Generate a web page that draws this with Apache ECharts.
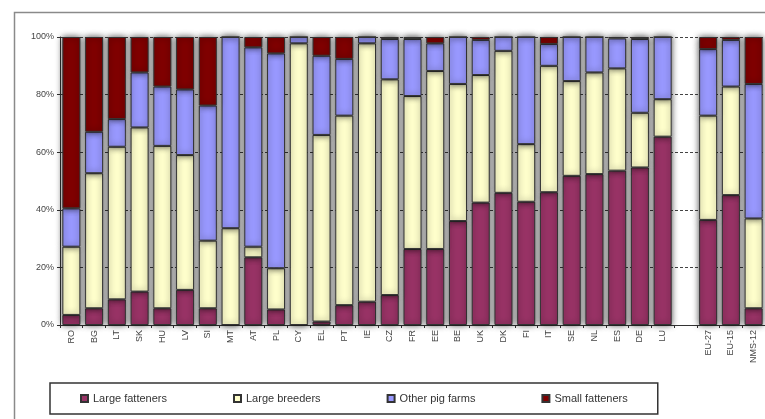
<!DOCTYPE html>
<html>
<head>
<meta charset="utf-8">
<script src="https://cdn.jsdelivr.net/npm/echarts@6/dist/echarts.min.js"></script>
<style>
  html, body { margin: 0; padding: 0; background: #fff; }
  #chart { width: 765px; height: 419px; }
</style>
</head>
<body>
<div id="chart"></div>
<script>
// categories, with an empty slot before the EU aggregates
const countries = ['RO', 'BG', 'LT', 'SK', 'HU', 'LV', 'SI', 'MT', 'AT', 'PL', 'CY', 'EL', 'PT', 'IE',
  'CZ', 'FR', 'EE', 'BE', 'UK', 'DK', 'FI', 'IT', 'SE', 'NL', 'ES', 'DE', 'LU', '', 'EU-27', 'EU-15', 'NMS-12'];

// shares in %
const largeFatteners = [3.5, 5.8, 8.9, 11.6, 5.8, 12.2, 5.8, 0, 23.5, 5.4, 0, 1.2, 6.9, 8.1,
  10.4, 26.4, 26.4, 36.1, 42.5, 45.9, 42.8, 46.1, 51.8, 52.4, 53.6, 54.7, 65.4, null, 36.5, 45.1, 5.8];
const largeBreeders = [23.7, 46.9, 53.0, 57.0, 56.4, 46.8, 23.5, 33.6, 3.7, 14.3, 97.8, 64.8, 65.8, 89.7,
  74.9, 53.1, 61.8, 47.6, 44.3, 49.3, 20.0, 43.9, 32.9, 35.3, 35.5, 19.0, 13.0, null, 36.2, 37.7, 31.2];
const otherPigFarms = [13.3, 14.4, 9.6, 19.1, 20.6, 22.8, 46.9, 66.4, 69.2, 74.6, 2.2, 27.5, 19.7, 2.2,
  14.0, 19.8, 9.6, 16.3, 12.2, 4.8, 37.2, 7.6, 15.3, 12.3, 10.4, 25.6, 21.6, null, 23.1, 16.2, 46.7];
const smallFatteners = [59.5, 32.9, 28.5, 12.3, 17.2, 18.2, 23.8, 0, 3.6, 5.7, 0, 6.5, 7.6, 0,
  0.7, 0.7, 2.2, 0, 1.0, 0, 0, 2.4, 0, 0, 0.5, 0.7, 0, null, 4.2, 1.0, 16.3];

const yTicks = [0, 20, 40, 60, 80, 100];

const font = 'Liberation Sans, Arial, sans-serif';

const chart = echarts.init(document.getElementById('chart'));

const mkSeries = (name, data, color) => ({
  name,
  type: 'bar',
  stack: 'total',
  data,
  barWidth: 18,
  itemStyle: {
    color,
    borderColor: '#333',
    borderWidth: 1,
    shadowBlur: 6,
    shadowColor: 'rgba(0,0,0,0.7)',
  },
});

chart.setOption({
  animation: false,
  backgroundColor: '#fff',
  graphic: [
    {
      type: 'rect',
      left: 12,
      top: 10,
      shape: { width: 800, height: 500 },
      style: { fill: 'none', stroke: '#8a8a8a', lineWidth: 1.5 },
      z: -10,
    },
  ],
  grid: { left: 60, top: 37, width: 708, height: 288, containLabel: false },
  legend: {
    left: 50,
    top: 383,
    orient: 'horizontal',
    icon: 'rect',
    itemWidth: 7,
    itemHeight: 7,
    itemGap: 66,
    padding: [10, 30, 10, 30],
    borderColor: '#333',
    borderWidth: 1.5,
    textStyle: { fontFamily: font, fontSize: 11, color: '#333' },
    data: ['Large fatteners', 'Large breeders', 'Other pig farms', 'Small fatteners'],
  },
  xAxis: {
    type: 'category',
    data: countries,
    axisLine: { lineStyle: { color: '#333', width: 1 } },
    axisTick: { show: true, length: 3, lineStyle: { color: '#333' } },
    axisLabel: { rotate: 90, fontFamily: font, fontSize: 9, color: '#444', margin: 5, interval: 0 },
  },
  yAxis: {
    type: 'value',
    min: yTicks[0],
    max: yTicks[yTicks.length - 1],
    interval: 20,
    axisLine: { show: true, lineStyle: { color: '#333', width: 1 } },
    axisTick: { show: true, length: 3, lineStyle: { color: '#333' } },
    axisLabel: { formatter: '{value}%', fontFamily: font, fontSize: 9, color: '#444', margin: 6 },
    splitLine: { show: true, lineStyle: { color: '#444', type: [3, 2], width: 1 } },
  },
  series: [
    mkSeries('Large fatteners', largeFatteners, '#993366'),
    mkSeries('Large breeders', largeBreeders, '#FFFFCC'),
    mkSeries('Other pig farms', otherPigFarms, '#9999FF'),
    mkSeries('Small fatteners', smallFatteners, '#800000'),
  ],
});
</script>
</body>
</html>
